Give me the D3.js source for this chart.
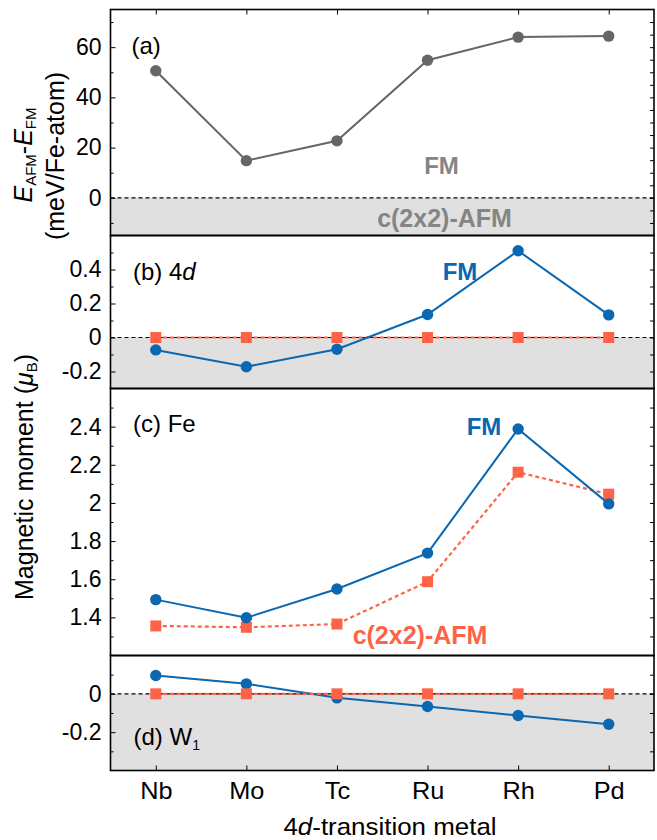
<!DOCTYPE html>
<html><head><meta charset="utf-8">
<script src="https://cdn.jsdelivr.net/npm/d3@7"></script>
<style>
body{margin:0;background:#fff;}
text{font-family:"Liberation Sans",Arial,Helvetica,sans-serif;}
</style></head>
<body><svg id="chart" width="657" height="840"></svg>
<script>
// ---- data ----
const metals = ["Nb","Mo","Tc","Ru","Rh","Pd"];
const energyDiff = [50.6, 14.8, 22.7, 54.8, 64.0, 64.4];           // meV/Fe-atom
const moment4dFM  = [-0.073, -0.172, -0.069, 0.135, 0.51, 0.133];
const moment4dAFM = [0, 0, 0, 0, 0, 0];
const momentFeFM  = [1.493, 1.398, 1.549, 1.737, 2.388, 1.995];
const momentFeAFM = [1.355, 1.348, 1.365, 1.587, 2.161, 2.046];
const momentW1FM  = [0.096, 0.052, -0.021, -0.066, -0.113, -0.159];
const momentW1AFM = [0, 0, 0, 0, 0, 0];

const ticksA = [0, 20, 40, 60];
const ticksB = [-0.2, 0, 0.2, 0.4];
const ticksC = [1.4, 1.6, 1.8, 2, 2.2, 2.4];
const ticksD = [-0.2, 0];
const minorA = [-10, 10, 30, 50, 70];
const minorB = [-0.1, 0.1, 0.3, 0.5];
const minorC = [1.3, 1.5, 1.7, 1.9, 2.1, 2.3, 2.5];
const minorD = [-0.3, -0.1, 0.1];
const rightA = [-10,-5,0,5,10,15,20,25,30,35,40,45,50,55,60,65,70];

const GREY = "#666666", BLUE = "#0a67b2", ORANGE = "#ff6347", SHADE = "#e0e0e0";

const svg = d3.select("#chart");
const L = 110.5, R = 654;
const x = d3.scalePoint().domain(metals).range([L, R]).padding(0.5);

const panels = [
  {top: 9.5,   bot: 235.5, dom: [-15, 75],   ticks: ticksA, minor: minorA, right: rightA, shade: true,
   series: [{vals: energyDiff, color: GREY, shape: "circle", dash: null}]},
  {top: 235.5, bot: 388.5, dom: [-0.3, 0.6], ticks: ticksB, minor: minorB, right: null, shade: true,
   series: [{vals: moment4dAFM, color: ORANGE, shape: "square", dash: "4,3"},
            {vals: moment4dFM, color: BLUE, shape: "circle", dash: null}]},
  {top: 388.5, bot: 655.5, dom: [1.2, 2.6],  ticks: ticksC, minor: minorC, right: null, shade: false,
   series: [{vals: momentFeAFM, color: ORANGE, shape: "square", dash: "4,3"},
            {vals: momentFeFM, color: BLUE, shape: "circle", dash: null}]},
  {top: 655.5, bot: 770.5, dom: [-0.4, 0.2], ticks: ticksD, minor: minorD, right: null, shade: true,
   series: [{vals: momentW1FM, color: BLUE, shape: "circle", dash: null},
            {vals: momentW1AFM, color: ORANGE, shape: "square", dash: "4,3"}]}
];

const fmt = d => d === 0 ? "0" : String(d).replace("\u2212", "-");

panels.forEach((p, i) => {
  const y = d3.scaleLinear().domain(p.dom).range([p.bot, p.top]);
  p.y = y;
  const g = svg.append("g");
  if (p.shade) {
    g.append("rect").attr("x", L).attr("y", y(0)).attr("width", R - L)
      .attr("height", y(p.dom[0]) - y(0)).attr("fill", SHADE);
    g.append("line").attr("x1", L).attr("x2", R).attr("y1", y(0)).attr("y2", y(0))
      .attr("stroke", "#000").attr("stroke-width", 1.2).attr("stroke-dasharray", "4,3");
  }
  // left axis (major, labelled)
  const ax = g.append("g").attr("transform", `translate(${L},0)`)
    .call(d3.axisLeft(y).tickValues(p.ticks).tickSize(-5).tickPadding(9).tickFormat(fmt));
  ax.select(".domain").remove();
  ax.selectAll("text").attr("font-size", 23).attr("fill", "#000").style("font-family", '"Liberation Sans",Arial,sans-serif');
  ax.selectAll("line").attr("stroke", "#000");
  const axm = g.append("g").attr("transform", `translate(${L},0)`)
    .call(d3.axisLeft(y).tickValues(p.minor).tickSize(-3).tickFormat(""));
  axm.select(".domain").remove();
  // right axis
  const rv = p.right || p.ticks.concat(p.minor);
  const ar = g.append("g").attr("transform", `translate(${R},0)`)
    .call(d3.axisRight(y).tickValues(rv).tickSize(-4).tickFormat(""));
  ar.select(".domain").remove();
  ar.selectAll("line").attr("stroke", "#000");
  // series
  p.series.forEach(s => {
    const line = d3.line().x((d, j) => x(metals[j])).y(d => y(d));
    g.append("path").datum(s.vals).attr("d", line).attr("fill", "none")
      .attr("stroke", s.color).attr("stroke-width", s.dash ? 2.2 : 2)
      .attr("stroke-dasharray", s.dash);
    if (s.shape === "circle") {
      g.selectAll(null).data(s.vals).enter().append("circle")
        .attr("cx", (d, j) => x(metals[j])).attr("cy", d => y(d)).attr("r", 5.7).attr("fill", s.color);
    } else {
      g.selectAll(null).data(s.vals).enter().append("rect")
        .attr("x", (d, j) => x(metals[j]) - 5.5).attr("y", d => y(d) - 5.5)
        .attr("width", 11).attr("height", 11).attr("fill", s.color);
    }
  });
  // frame
  g.append("rect").attr("x", L).attr("y", p.top).attr("width", R - L).attr("height", p.bot - p.top)
    .attr("fill", "none").attr("stroke", "#000").attr("stroke-width", 1.6);
});

// top x ticks (panel a)
const topAx = svg.append("g").attr("transform", `translate(0,${panels[0].top})`)
  .call(d3.axisTop(x).tickSize(-5).tickFormat(""));
topAx.select(".domain").remove();
// bottom x axis (panel d)
const botAx = svg.append("g").attr("transform", `translate(0,${panels[3].bot})`)
  .call(d3.axisBottom(x).tickSize(-5).tickPadding(12));
botAx.select(".domain").remove();
botAx.selectAll("text").attr("font-size", 23).attr("fill", "#000")
  .attr("transform", "scale(1.1,1)").style("font-family", '"Liberation Sans",Arial,sans-serif');

// x axis title
const xt = svg.append("text").attr("transform", "translate(390,835) scale(1.08,1)")
  .attr("text-anchor", "middle").attr("font-size", 24);
xt.append("tspan").text("4");
xt.append("tspan").attr("font-style", "italic").text("d");
xt.append("tspan").text("-transition metal");

// y-axis title panel a
const ya1 = svg.append("text").attr("transform", "translate(31.5,155) rotate(-90)")
  .attr("text-anchor", "middle").attr("font-size", 25);
ya1.append("tspan").attr("font-style", "italic").text("E");
ya1.append("tspan").attr("font-size", 15).attr("dy", 4).text("AFM");
ya1.append("tspan").attr("dy", -4).text("-");
ya1.append("tspan").attr("font-style", "italic").text("E");
ya1.append("tspan").attr("font-size", 15).attr("dy", 4).text("FM");
svg.append("text").attr("transform", "translate(64,156) rotate(-90)")
  .attr("text-anchor", "middle").attr("font-size", 25).text("(meV/Fe-atom)");

// magnetic moment title
const ym = svg.append("text").attr("transform", "translate(33,477) rotate(-90)")
  .attr("text-anchor", "middle").attr("font-size", 25);
ym.append("tspan").text("Magnetic moment (");
ym.append("tspan").attr("font-style", "italic").text("\u03bc");
ym.append("tspan").attr("font-size", 15).attr("dy", 4).text("B");
ym.append("tspan").attr("dy", -4).text(")");

// panel labels
svg.append("text").attr("x", 131.5).attr("y", 54).attr("font-size", 24).text("(a)");
const lb = svg.append("text").attr("x", 133).attr("y", 280).attr("font-size", 24);
lb.append("tspan").text("(b) 4");
lb.append("tspan").attr("font-style", "italic").text("d");
svg.append("text").attr("x", 133).attr("y", 431.5).attr("font-size", 24).text("(c) Fe");
const ld = svg.append("text").attr("x", 133.5).attr("y", 745).attr("font-size", 24);
ld.append("tspan").text("(d) W");
ld.append("tspan").attr("font-size", 14).attr("dy", 5).text("1");

// in-plot annotations
svg.append("text").attr("x", 441.5).attr("y", 174).attr("text-anchor", "middle")
  .attr("font-size", 24).attr("font-weight", "bold").attr("fill", "#858585").text("FM");
svg.append("text").attr("x", 444.5).attr("y", 226.5).attr("text-anchor", "middle")
  .attr("font-size", 25).attr("font-weight", "bold").attr("fill", "#858585").text("c(2x2)-AFM");
svg.append("text").attr("x", 460).attr("y", 279.5).attr("text-anchor", "middle")
  .attr("font-size", 24).attr("font-weight", "bold").attr("fill", BLUE).text("FM");
svg.append("text").attr("x", 484).attr("y", 435).attr("text-anchor", "middle")
  .attr("font-size", 24).attr("font-weight", "bold").attr("fill", BLUE).text("FM");
svg.append("text").attr("x", 420).attr("y", 643.5).attr("text-anchor", "middle")
  .attr("font-size", 25).attr("font-weight", "bold").attr("fill", ORANGE).text("c(2x2)-AFM");
</script></body></html>
